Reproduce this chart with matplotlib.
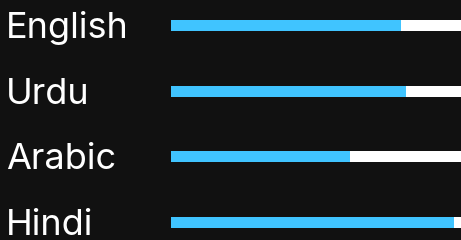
import matplotlib.pyplot as plt
import matplotlib.transforms as mtransforms

languages = ['English', 'Urdu', 'Arabic', 'Hindi']
shares = [79.3, 81.0, 61.7, 97.6]
track_max = 100

bg = '#111111'
fill_color = '#40C4FF'
track_color = '#FFFFFF'

plt.rcParams['font.family'] = ['Inter', 'DejaVu Sans']

fig = plt.figure(figsize=(4.61, 2.40), dpi=100, facecolor=bg)
ax = fig.add_axes([171 / 461, 0, 1 - 171 / 461, 1])
ax.set_facecolor(bg)

ypos = list(range(len(languages)))
bar_h = 0.168
ax.barh(ypos, [track_max] * len(languages), height=bar_h, color=track_color, linewidth=0)
ax.barh(ypos, shares, height=bar_h, color=fill_color, linewidth=0)

ax.set_xlim(0, track_max)
ax.set_ylim(3.266, -0.388)
ax.axis('off')

# labels sit in the left margin, x in figure fraction, y on the category axis
trans = mtransforms.blended_transform_factory(fig.transFigure, ax.transData)
for y, name in zip(ypos, languages):
    ax.text(6 / 461, y + 0.19, name, transform=trans, color='white',
            fontsize=26, ha='left', va='baseline', clip_on=False)

fig.savefig('out.png', dpi=100, facecolor=bg)
plt.close(fig)
